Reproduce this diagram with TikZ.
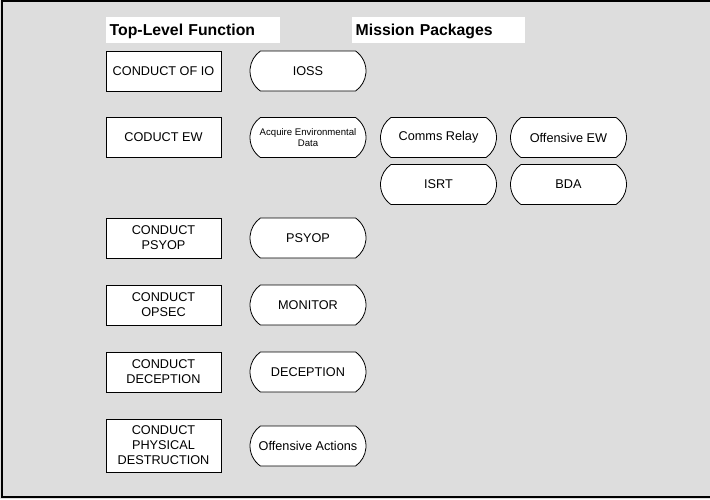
\documentclass[tikz,border=0pt]{standalone}
\usepackage{fontspec}
\setmainfont{Liberation Sans}
\usetikzlibrary{shapes.misc}
\definecolor{panelgray}{RGB}{221,221,221}
\tikzset{
  txt/.style={font=\fontsize{12.7}{15}\selectfont},
  smalltxt/.style={font=\fontsize{9.6}{11.5}\selectfont},
  funcbox/.style={draw=black, line width=0.8pt, fill=white, rectangle,
    minimum width=115pt, minimum height=40pt, inner sep=0pt, align=center, txt},
  pkg/.style={draw=black, line width=0.8pt, fill=white, rounded rectangle,
    rounded rectangle arc length=110, minimum width=116pt, minimum height=40pt,
    inner sep=0pt, align=center, txt},
  heading/.style={fill=white, inner ysep=0pt, inner xsep=3.5pt, anchor=north west,
    minimum height=26pt, text depth=0pt, align=left,
    font=\fontsize{15.8}{18}\selectfont\bfseries}
}
\begin{document}
\begin{tikzpicture}[x=1pt,y=-1pt]
  % page and frame
  \useasboundingbox (0,0) rectangle (710,499);
  \fill[panelgray] (0,0) rectangle (710,499);
  \draw[line width=2pt] (710,1) -- (2,1) -- (2,497) -- (710,497);

  % column headings
  \node[heading, text width=167pt] (hfunc) at (106,17) {Top-Level Function};
  \node[heading, text width=166pt] (hpkg) at (352,17) {Mission Packages};

  % top-level functions
  \node[funcbox] (f1) at (163.5,71) {CONDUCT OF IO};
  \node[funcbox] (f2) at (163.5,137.5) {CODUCT EW};
  \node[funcbox] (f3) at (163.5,238) {CONDUCT\\PSYOP};
  \node[funcbox] (f4) at (163.5,305) {CONDUCT\\OPSEC};
  \node[funcbox] (f5) at (163.5,372) {CONDUCT\\DECEPTION};
  \node[funcbox, minimum height=53pt] (f6) at (163.5,445.5) {CONDUCT\\PHYSICAL\\DESTRUCTION};

  % mission packages
  \node[pkg] (p1) at (308,71) {IOSS};
  \node[pkg, smalltxt] (p2) at (308,137.5) {Acquire Environmental\\Data};
  \node[pkg] (p3) at (438.5,137.5) {Comms Relay};
  \node[pkg] (p4) at (568.5,137.5) {Offensive EW};
  \node[pkg] (p5) at (438.5,184.5) {ISRT};
  \node[pkg] (p6) at (568.5,184.5) {BDA};
  \node[pkg] (p7) at (308,238) {PSYOP};
  \node[pkg] (p8) at (308,305) {MONITOR};
  \node[pkg] (p9) at (308,372) {DECEPTION};
  \node[pkg] (p10) at (308,446) {Offensive Actions};
\end{tikzpicture}
\end{document}
